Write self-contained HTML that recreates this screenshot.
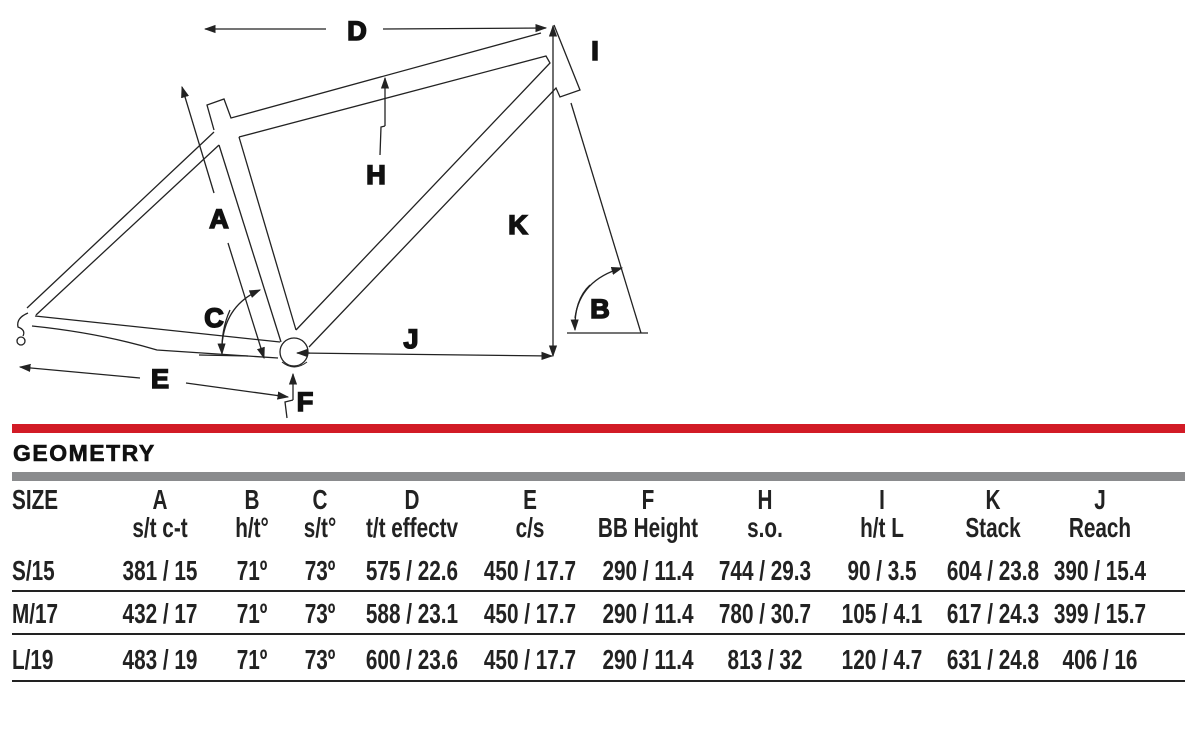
<!DOCTYPE html>
<html><head><meta charset="utf-8"><style>
body{margin:0;width:1200px;height:740px;background:#fff;overflow:hidden;position:relative;font-family:"Liberation Sans",sans-serif}
svg{position:absolute;left:0;top:0}
.t{position:absolute;font-weight:bold;color:#222;font-size:28px;white-space:nowrap;transform:translateX(-50%) scaleX(.74);text-align:center;line-height:28px}
.l{transform:scaleX(.74);transform-origin:0 0}
.hr{position:absolute;left:12px;width:1173px;background:#222;height:2px}
</style></head><body>
<svg width="1200" height="420" viewBox="0 0 1200 420" fill="none" stroke="#222" stroke-width="1.3">
<defs><marker id="ar" viewBox="0 0 10 10" refX="9" refY="5" markerWidth="9" markerHeight="9" orient="auto-start-reverse"><path d="M0,1.5 L10,5 L0,8.5 z" fill="#222" stroke="none"/></marker></defs>
<polyline points="214,130 207,105 224,99 231,118 541,33"/>
<polyline points="239,137 546,56 550,63 296,330"/>
<polyline points="554,25 580,90 560,97 556,88 309,347"/>
<line x1="219" y1="145" x2="281" y2="342"/>
<line x1="239" y1="137" x2="296" y2="330"/>
<line x1="214" y1="132" x2="27" y2="308"/>
<line x1="219" y1="145" x2="36" y2="315"/>
<line x1="35" y1="316" x2="280" y2="342"/>
<path d="M32,326 Q100,333 157,350 L278,358"/>
<path d="M28,313 Q16,318 18,327 Q26,330 23,336"/>
<circle cx="21" cy="341" r="4"/>
<circle cx="294" cy="352" r="14"/>
<path d="M282,362 Q294,372 307,362" stroke-width="1"/>
<line x1="326" y1="29" x2="205" y2="29" marker-end="url(#ar)"/>
<line x1="383" y1="29" x2="546" y2="28" marker-end="url(#ar)"/>
<line x1="553" y1="40" x2="553" y2="26" marker-end="url(#ar)"/>
<line x1="553" y1="40" x2="553" y2="356" marker-end="url(#ar)"/>
<line x1="300" y1="353" x2="552" y2="356" marker-end="url(#ar)"/>
<line x1="310" y1="353" x2="297" y2="353" marker-end="url(#ar)"/>
<line x1="571" y1="103" x2="641" y2="333"/>
<line x1="567" y1="333" x2="648" y2="333"/>
<path d="M575,318 Q580,280 622,268" marker-end="url(#ar)"/>
<path d="M590,285 Q574,300 575,330" marker-end="url(#ar)"/>
<line x1="385" y1="126" x2="385" y2="78" marker-end="url(#ar)"/>
<polyline points="385,126 381,127 380,155"/>
<line x1="214" y1="193" x2="182" y2="87" marker-end="url(#ar)"/>
<line x1="228" y1="243" x2="264" y2="358" marker-end="url(#ar)"/>
<line x1="199" y1="355" x2="248" y2="356"/>
<path d="M222,345 Q225,305 260,290" marker-end="url(#ar)"/>
<path d="M230,310 Q221,330 222,354" marker-end="url(#ar)"/>
<line x1="140" y1="378" x2="20" y2="367" marker-end="url(#ar)"/>
<line x1="186" y1="383" x2="288" y2="397" marker-end="url(#ar)"/>
<line x1="293" y1="400" x2="293" y2="374" marker-end="url(#ar)"/>
<polyline points="293,400 285,402 287,418"/>
<g font-family="Liberation Sans,sans-serif" font-weight="900" font-size="27" fill="#111" stroke="#111" stroke-width="1.6" text-anchor="middle">
<text x="357" y="40">D</text><text x="595" y="60">I</text><text x="376" y="184">H</text>
<text x="219" y="228">A</text><text x="518" y="234">K</text><text x="600" y="318">B</text>
<text x="214" y="327">C</text><text x="411" y="348">J</text><text x="160" y="388">E</text><text x="305" y="411">F</text>
</g>
</svg>
<div style="position:absolute;left:12px;top:424px;width:1173px;height:9px;background:#d21b26"></div>
<div style="position:absolute;left:13px;top:440px;font-family:'Liberation Sans',sans-serif;font-weight:900;font-size:23px;letter-spacing:1.5px;color:#111;-webkit-text-stroke:0.6px #111">GEOMETRY</div>
<div style="position:absolute;left:12px;top:472px;width:1173px;height:9px;background:#8a8b8d"></div>
<div class="t l" style="left:12px;top:486px">SIZE</div>
<div class="t" style="left:160px;top:486px">A<br>s/t c-t</div>
<div class="t" style="left:252px;top:486px">B<br>h/t°</div>
<div class="t" style="left:320px;top:486px">C<br>s/t°</div>
<div class="t" style="left:412px;top:486px">D<br>t/t effectv</div>
<div class="t" style="left:530px;top:486px">E<br>c/s</div>
<div class="t" style="left:648px;top:486px">F<br>BB Height</div>
<div class="t" style="left:765px;top:486px">H<br>s.o.</div>
<div class="t" style="left:882px;top:486px">I<br>h/t L</div>
<div class="t" style="left:993px;top:486px">K<br>Stack</div>
<div class="t" style="left:1100px;top:486px">J<br>Reach</div>

<div class="t l" style="left:12px;top:557px">S/15</div>
<div class="t" style="left:160px;top:557px">381 / 15</div><div class="t" style="left:252px;top:557px">71º</div><div class="t" style="left:320px;top:557px">73º</div><div class="t" style="left:412px;top:557px">575 / 22.6</div><div class="t" style="left:530px;top:557px">450 / 17.7</div><div class="t" style="left:648px;top:557px">290 / 11.4</div><div class="t" style="left:765px;top:557px">744 / 29.3</div><div class="t" style="left:882px;top:557px">90 / 3.5</div><div class="t" style="left:993px;top:557px">604 / 23.8</div><div class="t" style="left:1100px;top:557px">390 / 15.4</div>
<div class="hr" style="top:590px"></div>
<div class="t l" style="left:12px;top:600px">M/17</div>
<div class="t" style="left:160px;top:600px">432 / 17</div><div class="t" style="left:252px;top:600px">71º</div><div class="t" style="left:320px;top:600px">73º</div><div class="t" style="left:412px;top:600px">588 / 23.1</div><div class="t" style="left:530px;top:600px">450 / 17.7</div><div class="t" style="left:648px;top:600px">290 / 11.4</div><div class="t" style="left:765px;top:600px">780 / 30.7</div><div class="t" style="left:882px;top:600px">105 / 4.1</div><div class="t" style="left:993px;top:600px">617 / 24.3</div><div class="t" style="left:1100px;top:600px">399 / 15.7</div>
<div class="hr" style="top:633px"></div>
<div class="t l" style="left:12px;top:646px">L/19</div>
<div class="t" style="left:160px;top:646px">483 / 19</div><div class="t" style="left:252px;top:646px">71º</div><div class="t" style="left:320px;top:646px">73º</div><div class="t" style="left:412px;top:646px">600 / 23.6</div><div class="t" style="left:530px;top:646px">450 / 17.7</div><div class="t" style="left:648px;top:646px">290 / 11.4</div><div class="t" style="left:765px;top:646px">813 / 32</div><div class="t" style="left:882px;top:646px">120 / 4.7</div><div class="t" style="left:993px;top:646px">631 / 24.8</div><div class="t" style="left:1100px;top:646px">406 / 16</div>
<div class="hr" style="top:680px"></div>
</body></html>
